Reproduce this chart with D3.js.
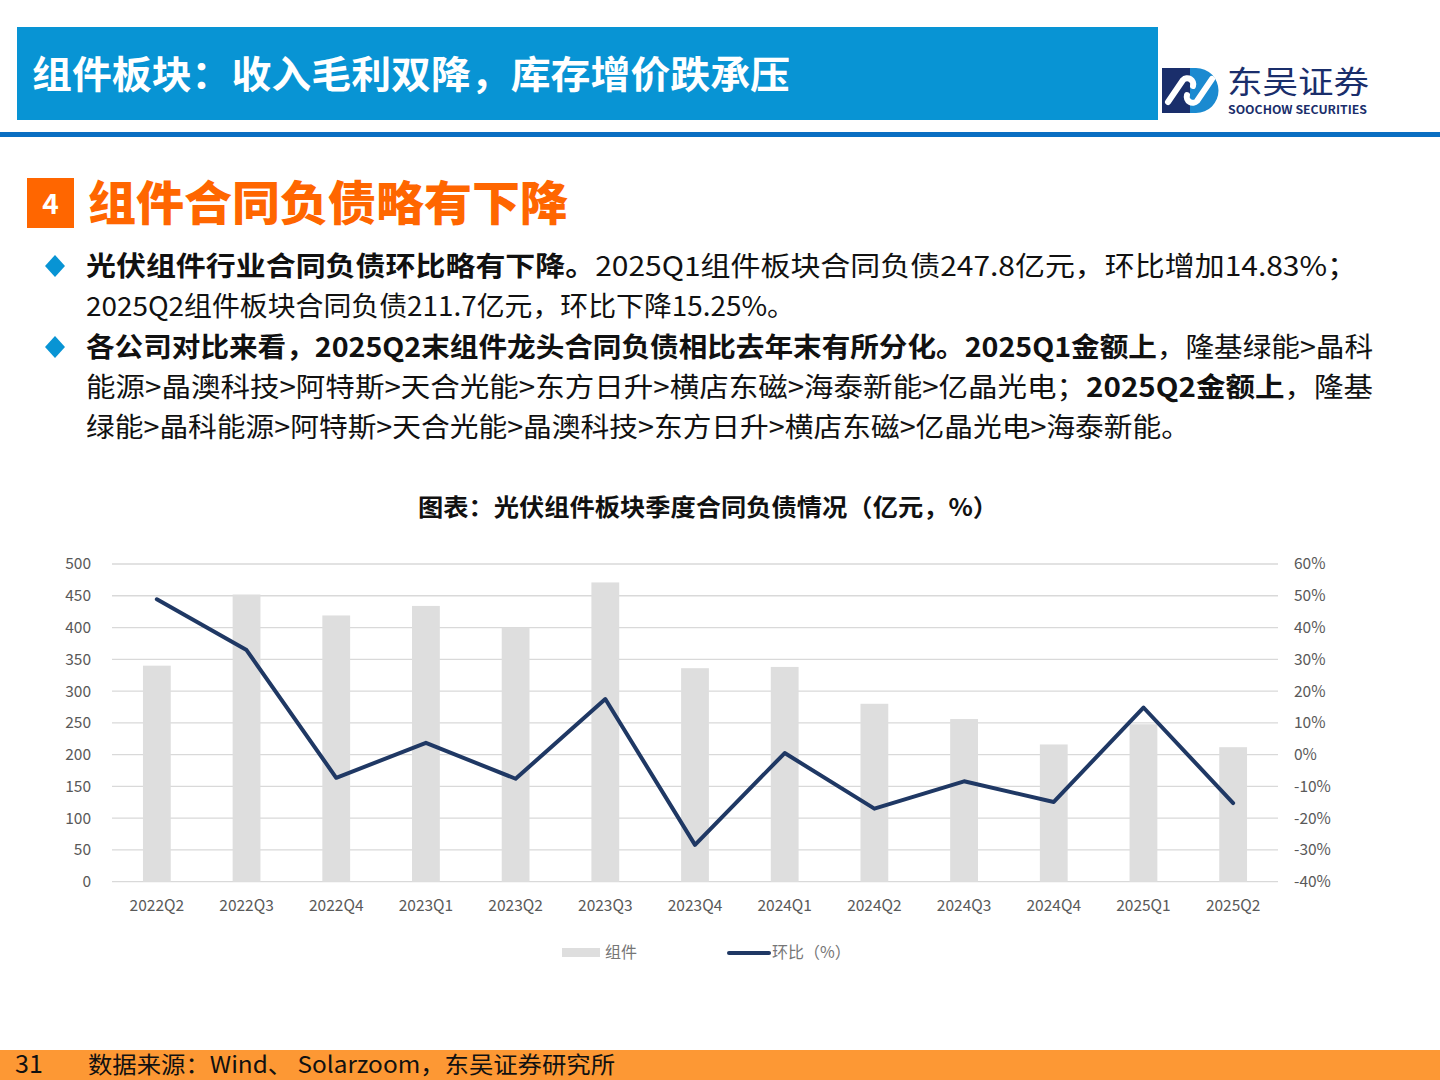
<!DOCTYPE html>
<html><head><meta charset="utf-8">
<script src="https://cdn.jsdelivr.net/npm/d3@7/dist/d3.min.js"></script>
<style>
html,body{margin:0;padding:0;background:#fff;}
svg{display:block;}
text{font-family:"Noto Sans CJK SC","Noto Sans",sans-serif;}
</style></head>
<body>
<svg id="c" width="1440" height="1080"></svg>
<script>
const categories = ["2022Q2","2022Q3","2022Q4","2023Q1","2023Q2","2023Q3","2023Q4","2024Q1","2024Q2","2024Q3","2024Q4","2025Q1","2025Q2"];
const liabilities = [340, 452, 419, 434, 400, 471, 336, 338, 280, 256, 216, 247.8, 211.7];
const qoqPct = [48.9, 32.9, -7.3, 3.7, -7.6, 17.5, -28.4, 0.5, -17.0, -8.4, -14.9, 14.83, -15.25];
const leftTicks = [0,50,100,150,200,250,300,350,400,450,500];
const rightTicks = [-40,-30,-20,-10,0,10,20,30,40,50,60];
const seriesNames = ["组件","环比（%）"];

const svg = d3.select("#c");
const navy = "#1f3864", gray = "#dedede", grid = "#d9d9d9", axisTxt = "#595959";

// Header
svg.append("rect").attr("x",17).attr("y",27).attr("width",1141).attr("height",93).attr("fill","#0894d4");
svg.append("text").attr("x",32).attr("y",88).attr("fill","#fff").attr("font-size",38).attr("font-weight",700)
  .attr("textLength",758).attr("lengthAdjust","spacingAndGlyphs").text("组件板块：收入毛利双降，库存增价跌承压");
svg.append("rect").attr("x",0).attr("y",132).attr("width",1440).attr("height",5).attr("fill","#0a6fc2");

// Logo
const lg = svg.append("g");
lg.append("rect").attr("x",1162).attr("y",68).attr("width",30).attr("height",45).attr("fill","#1a2e6b");
lg.append("path").attr("d","M1190,68 L1196,68 A22.5,22.5 0 0 1 1196,113 L1190,113 Z").attr("fill","#1b8ad0");
lg.append("path").attr("d","M1168,102 L1183,80 A6,6 0 0 1 1193,86 M1212,79 L1197,101 A6,6 0 0 1 1187,95")
  .attr("stroke","#fff").attr("stroke-width",6).attr("fill","none").attr("stroke-linecap","round");
lg.append("text").attr("x",1227).attr("y",93).attr("fill","#1a2e6b").attr("font-size",31)
  .attr("textLength",142).attr("lengthAdjust","spacingAndGlyphs").text("东吴证券");
lg.append("text").attr("x",1228).attr("y",114).attr("fill","#1a2e6b").attr("font-size",11).attr("font-weight",700)
  .attr("font-family","'Open Sans',sans-serif").attr("textLength",139).attr("lengthAdjust","spacingAndGlyphs").text("SOOCHOW SECURITIES");

// Section heading
svg.append("rect").attr("x",27).attr("y",178).attr("width",47).attr("height",50).attr("fill","#ff6600");
svg.append("text").attr("x",50.5).attr("y",214).attr("text-anchor","middle").attr("fill","#fff").attr("font-size",28).attr("font-weight",700)
  .attr("font-family","'Noto Sans',sans-serif").text("4");
svg.append("text").attr("x",88).attr("y",220).attr("fill","#ff6600").attr("font-size",47).attr("font-weight",900)
  .attr("textLength",480).attr("lengthAdjust","spacingAndGlyphs").text("组件合同负债略有下降");

// Bullets
const diamond = (cx,cy)=>svg.append("path").attr("d",`M${cx},${cy-11} L${cx+10},${cy} L${cx},${cy+11} L${cx-10},${cy} Z`).attr("fill","#0894d4");
diamond(55,266); diamond(55,347);
const lines = [
  {y:276, len:1271, parts:[["光伏组件行业合同负债环比略有下降。",1],["2025Q1组件板块合同负债247.8亿元，环比增加14.83%；",0]]},
  {y:316, len:709, parts:[["2025Q2组件板块合同负债211.7亿元，环比下降15.25%。",0]]},
  {y:357, len:1287, parts:[["各公司对比来看，2025Q2末组件龙头合同负债相比去年末有所分化。2025Q1金额上",1],["，隆基绿能>晶科",0]]},
  {y:397, len:1287, parts:[["能源>晶澳科技>阿特斯>天合光能>东方日升>横店东磁>海泰新能>亿晶光电；",0],["2025Q2金额上",1],["，隆基",0]]},
  {y:437, len:1104, parts:[["绿能>晶科能源>阿特斯>天合光能>晶澳科技>东方日升>横店东磁>亿晶光电>海泰新能。",0]]}
];
lines.forEach(l=>{
  const t = svg.append("text").attr("x",86).attr("y",l.y).attr("font-size",27).attr("fill","#111")
    .attr("textLength",l.len).attr("lengthAdjust","spacingAndGlyphs");
  l.parts.forEach(p=>t.append("tspan").attr("font-weight",p[1]?700:400).text(p[0]));
});

// Chart title
svg.append("text").attr("x",708).attr("y",516).attr("text-anchor","middle").attr("font-size",24).attr("font-weight",700).attr("fill","#111")
  .attr("textLength",580).attr("lengthAdjust","spacingAndGlyphs").text("图表：光伏组件板块季度合同负债情况（亿元，%）");

// Chart
const x0=112, x1=1278, yTop=564, yBot=881.7;
const x = d3.scaleBand().domain(categories).range([x0,x1]).paddingInner(0.69).paddingOuter(0.345);
const yL = d3.scaleLinear().domain([0,500]).range([yBot,yTop]);
const yR = d3.scaleLinear().domain([-40,60]).range([yBot,yTop]);

const gGrid = svg.append("g");
gGrid.selectAll("line").data(leftTicks).join("line")
  .attr("x1",x0).attr("x2",x1).attr("y1",d=>yL(d)).attr("y2",d=>yL(d))
  .attr("stroke",grid).attr("stroke-width",1.3);

svg.append("g").selectAll("rect").data(liabilities).join("rect")
  .attr("x",(d,i)=>x(categories[i])).attr("width",x.bandwidth())
  .attr("y",d=>yL(d)).attr("height",d=>yBot-yL(d)).attr("fill",gray);

const line = d3.line().x((d,i)=>x(categories[i])+x.bandwidth()/2).y(d=>yR(d));
svg.append("path").datum(qoqPct).attr("d",line).attr("fill","none").attr("stroke",navy).attr("stroke-width",4).attr("stroke-linejoin","round").attr("stroke-linecap","round");

// Axes
const axL = svg.append("g").attr("transform",`translate(${x0-21},0)`).call(d3.axisLeft(yL).tickValues(leftTicks).tickSize(0).tickPadding(0));
const axR = svg.append("g").attr("transform",`translate(${x1+16},0)`).call(d3.axisRight(yR).tickValues(rightTicks).tickSize(0).tickPadding(0).tickFormat(d=>d+"%"));
const axB = svg.append("g").attr("transform",`translate(0,${yBot+12})`).call(d3.axisBottom(x).tickSize(0).tickPadding(6));
[axL,axR,axB].forEach(a=>{
  a.select(".domain").remove();
  a.selectAll("text").attr("font-size",15.5).attr("fill",axisTxt).attr("font-family","'Noto Sans',sans-serif");
});

// Legend
svg.append("rect").attr("x",562).attr("y",948).attr("width",38).attr("height",9).attr("fill",gray);
svg.append("text").attr("x",605).attr("y",958).attr("font-size",16).attr("fill","#767676").text(seriesNames[0]);
svg.append("line").attr("x1",729).attr("x2",769).attr("y1",953).attr("y2",953).attr("stroke",navy).attr("stroke-width",4).attr("stroke-linecap","round");
svg.append("text").attr("x",772).attr("y",958).attr("font-size",16).attr("fill","#767676").text(seriesNames[1]);

// Footer
svg.append("rect").attr("x",0).attr("y",1050).attr("width",1440).attr("height",30).attr("fill","#fd9834");
svg.append("text").attr("x",15).attr("y",1073).attr("font-size",25).attr("fill","#111").attr("font-family","'Liberation Serif',serif").text("31");
svg.append("text").attr("x",88).attr("y",1073).attr("font-size",23).attr("fill","#111")
  .attr("textLength",527).attr("lengthAdjust","spacingAndGlyphs").text("数据来源：Wind、 Solarzoom，东吴证券研究所");
</script>
</body></html>
